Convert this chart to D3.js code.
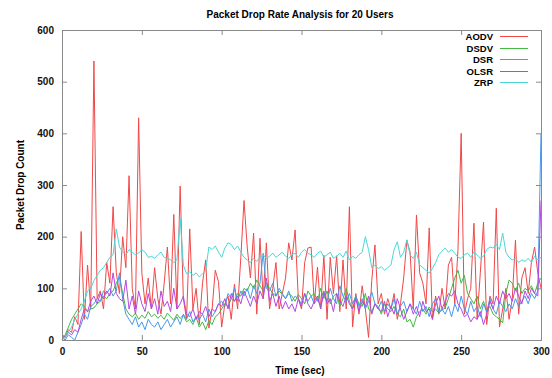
<!DOCTYPE html>
<html>
<head>
<meta charset="utf-8">
<script src="https://cdn.jsdelivr.net/npm/d3@7"></script>
<style>
  body { margin: 0; background: #fff; }
  svg { display: block; font-family: "Liberation Sans", Arial, sans-serif; }
</style>
</head>
<body>
<figure id="chart" style="margin:0"></figure>
<script>
// time axis, one sample every 2 seconds
const times = d3.range(0, 301, 2);

const seriesNames = ['AODV', 'DSDV', 'DSR', 'OLSR', 'ZRP'];
const seriesColors = ['#f04848', '#44b844', '#4898ec', '#b448e0', '#48d8d8'];

const xTicks = [0, 50, 100, 150, 200, 250, 300];
const yTicks = [0, 100, 200, 300, 400, 500, 600];

const aodv = [
  10, 5, 20, 15, 45, 30, 210, 40, 145, 60,
  540, 80, 95, 60, 150, 110, 258, 130, 90, 200,
  140, 318, 100, 60, 430, 130, 70, 120, 60, 140,
  80, 50, 110, 180, 70, 243, 60, 298, 80, 40,
  215, 60, 100, 30, 110, 155, 23, 60, 135, 113,
  25, 70, 85, 40, 108, 60, 160, 270, 180, 120,
  207, 50, 197, 80, 188, 60, 100, 150, 60, 90,
  120, 188, 155, 213, 80, 60, 150, 178, 180, 70,
  141, 60, 164, 40, 160, 90, 163, 55, 155, 60,
  258, 25, 90, 50, 105, 60, 5, 115, 184, 70,
  90, 50, 80, 60, 90, 40, 70, 120, 193, 170,
  60, 242, 130, 110, 70, 217, 40, 85, 50, 100,
  60, 145, 160, 70, 174, 400, 50, 80, 100, 226,
  40, 130, 228, 30, 85, 70, 255, 25, 60, 100,
  40, 80, 193, 50, 120, 140, 90, 150, 180, 130, 100
];

const dsdv = [
  0, 10, 25, 40, 50, 60, 70, 65, 55, 60,
  62, 70, 75, 85, 80, 90, 95, 110, 122, 90,
  60, 50, 45, 52, 40, 48, 42, 55, 45, 50,
  42, 48, 40, 52, 45, 38, 50, 42, 48, 35,
  40, 30, 45, 25, 35, 20, 38, 30, 45, 50,
  60, 70, 65, 80, 75, 90, 85, 100, 95, 110,
  100, 116, 105, 95, 110, 100, 90, 85, 95, 88,
  80, 90, 85, 75, 88, 80, 70, 95, 85, 90,
  75, 100, 80, 95, 70, 85, 90, 65, 80, 100,
  75, 60, 85, 70, 65, 90, 60, 55, 70, 65,
  50, 70, 60, 55, 65, 50, 45, 60, 35, 40,
  25, 45, 55, 60, 50, 64, 55, 60, 52, 58,
  62, 80, 100, 120, 135, 110, 125, 90, 80, 70,
  85, 60, 75, 55, 65, 50, 45, 40, 33, 90,
  116, 110, 95, 110, 90, 100, 95, 105, 90, 110, 120
];

const dsr = [
  5, 0, 10, 5, 0, 15, 30, 50, 40, 65,
  70, 80, 75, 95, 90, 100, 85, 95, 130, 80,
  50, 40, 30, 45, 25, 35, 20, 40, 30, 25,
  35, 20, 30, 40, 25, 35, 45, 30, 50, 40,
  55, 35, 45, 40, 50, 35, 60, 45, 55, 70,
  75, 65, 90, 80, 100, 75, 95, 85, 100, 80,
  105, 90, 110, 168, 100, 95, 110, 85, 100, 90,
  80, 95, 75, 85, 80, 70, 90, 75, 85, 70,
  80, 65, 90, 75, 100, 80, 70, 105, 85, 75,
  90, 70, 85, 65, 80, 60, 75, 93, 70, 60,
  75, 55, 70, 60, 80, 50, 65, 75, 55, 70,
  60, 50, 75, 55, 65, 45, 70, 80, 55, 60,
  50, 65, 45, 70, 55, 85, 60, 50, 75, 55,
  65, 45, 70, 55, 80, 60, 50, 75, 65, 55,
  70, 60, 80, 65, 75, 85, 70, 90, 80, 95, 400
];

const olsr = [
  10, 5, 15, 10, 20, 15, 40, 60, 55, 75,
  85, 70, 90, 80, 95, 85, 130, 90, 80, 75,
  116, 60, 85, 50, 95, 70, 55, 90, 60, 80,
  50, 95, 65, 75, 55, 100, 60, 70, 85, 50,
  45, 60, 40, 55, 50, 65, 45, 60, 55, 70,
  65, 80, 60, 90, 75, 85, 70, 95, 80, 65,
  85, 70, 95, 80, 120, 75, 90, 65, 85, 60,
  75, 60, 70, 55, 80, 65, 90, 70, 60, 75,
  85, 60, 95, 70, 80, 55, 90, 75, 65, 85,
  70, 60, 80, 55, 75, 65, 85, 50, 70, 60,
  55, 75, 45, 65, 50, 80, 60, 40, 55, 70,
  50, 65, 45, 75, 55, 60, 40, 70, 85, 60,
  75, 90, 85, 95, 70, 60, 45, 50, 35, 45,
  40, 55, 30, 50, 75, 60, 85, 70, 95, 80,
  90, 75, 100, 85, 70, 95, 80, 100, 90, 85, 270
];

const zrp = [
  0, 5, 15, 25, 40, 50, 60, 75, 95, 100,
  115, 125, 135, 140, 150, 160, 165, 215, 180, 170,
  165, 175, 170, 165, 168, 175, 170, 160, 162, 158,
  165, 170, 160, 158, 155, 150, 155, 236, 145, 128,
  132, 125, 130, 122, 128, 135, 180, 175, 182, 170,
  160, 178, 188, 185, 175, 182, 170, 160, 155, 150,
  158, 152, 160, 165, 158, 162, 168, 160, 165, 170,
  162, 158, 165, 168, 160, 170, 175, 168, 165, 160,
  168, 172, 160, 165, 170, 158, 162, 168, 160, 172,
  155, 162, 158, 165, 170, 200, 175, 140, 145, 138,
  142, 135, 140, 145, 175, 190, 160, 170, 194, 165,
  158, 170, 145, 140, 135, 130, 138, 150, 165, 172,
  178, 170, 175, 168, 160, 158, 165, 168, 160, 170,
  165, 158, 162, 175, 180, 178, 185, 175, 207, 170,
  160, 155, 158, 150, 155, 152, 158, 150, 162, 155, 160
];

const seriesValues = [aodv, dsdv, dsr, olsr, zrp];

const width = 552;
const height = 378;
const margin = { top: 30, right: 11, bottom: 38, left: 62 };

const svg = d3.select('figure#chart')
  .append('svg')
  .attr('width', width)
  .attr('height', height);

const x = d3.scaleLinear()
  .domain([0, 300])
  .range([margin.left, width - margin.right]);

const y = d3.scaleLinear()
  .domain([0, 600])
  .range([height - margin.bottom, margin.top]);

const color = d3.scaleOrdinal()
  .domain(seriesNames)
  .range(seriesColors);

const frameColor = '#8a8a8a';

// plot lines first, frame drawn over them
const line = d3.line()
  .x((d, i) => x(times[i]))
  .y(d => y(d));

svg.append('g')
  .selectAll('path')
  .data(seriesNames)
  .enter()
  .append('path')
  .attr('d', (d, i) => line(seriesValues[i]))
  .attr('fill', 'none')
  .attr('stroke', d => color(d))
  .attr('stroke-width', 1)
  .attr('stroke-linejoin', 'round');

// axes, ticks pointing inwards and mirrored on the opposite side
const tickLen = 5;
const bottomAxis = svg.append('g')
  .attr('transform', 'translate(0,' + y(0) + ')')
  .call(d3.axisBottom(x).tickValues(xTicks).tickSize(-tickLen).tickPadding(8));
const topAxis = svg.append('g')
  .attr('transform', 'translate(0,' + y(600) + ')')
  .call(d3.axisTop(x).tickValues(xTicks).tickSize(-tickLen).tickFormat(''));
const leftAxis = svg.append('g')
  .attr('transform', 'translate(' + x(0) + ',0)')
  .call(d3.axisLeft(y).tickValues(yTicks).tickSize(-tickLen).tickPadding(8));
const rightAxis = svg.append('g')
  .attr('transform', 'translate(' + x(300) + ',0)')
  .call(d3.axisRight(y).tickValues(yTicks).tickSize(-tickLen).tickFormat(''));

[bottomAxis, topAxis, leftAxis, rightAxis].forEach(a => {
  a.select('.domain').attr('stroke', frameColor);
  a.selectAll('.tick line').attr('stroke', frameColor);
  a.selectAll('text')
    .attr('fill', '#111')
    .style('font-size', '10px')
    .style('font-weight', 'bold')
    .style('font-family', '"Liberation Sans", Arial, sans-serif');
});

// titles
svg.append('text')
  .attr('x', 300)
  .attr('y', 18)
  .attr('text-anchor', 'middle')
  .style('font-size', '10px')
  .style('font-weight', 'bold')
  .text('Packet Drop Rate Analysis for 20 Users');

svg.append('text')
  .attr('x', 300)
  .attr('y', 374)
  .attr('text-anchor', 'middle')
  .style('font-size', '10px')
  .style('font-weight', 'bold')
  .text('Time (sec)');

svg.append('text')
  .attr('transform', 'translate(24,' + ((margin.top + height - margin.bottom) / 2) + ') rotate(-90)')
  .attr('text-anchor', 'middle')
  .style('font-size', '10px')
  .style('font-weight', 'bold')
  .text('Packet Drop Count');

// legend, rows snapped to half pixels so the sample lines stay crisp
const legend = svg.append('g')
  .selectAll('g')
  .data(seriesNames)
  .enter()
  .append('g')
  .attr('transform', (d, i) => 'translate(0,' + (Math.round(36 + i * 11.5) + 0.5) + ')');

legend.append('text')
  .attr('x', 493)
  .attr('dy', '0.35em')
  .attr('text-anchor', 'end')
  .style('font-size', '9.5px')
  .style('font-weight', 'bold')
  .text(d => d);

legend.append('line')
  .attr('x1', 500)
  .attr('x2', 528)
  .attr('stroke', d => color(d))
  .attr('stroke-width', 1);
</script>
</body>
</html>
